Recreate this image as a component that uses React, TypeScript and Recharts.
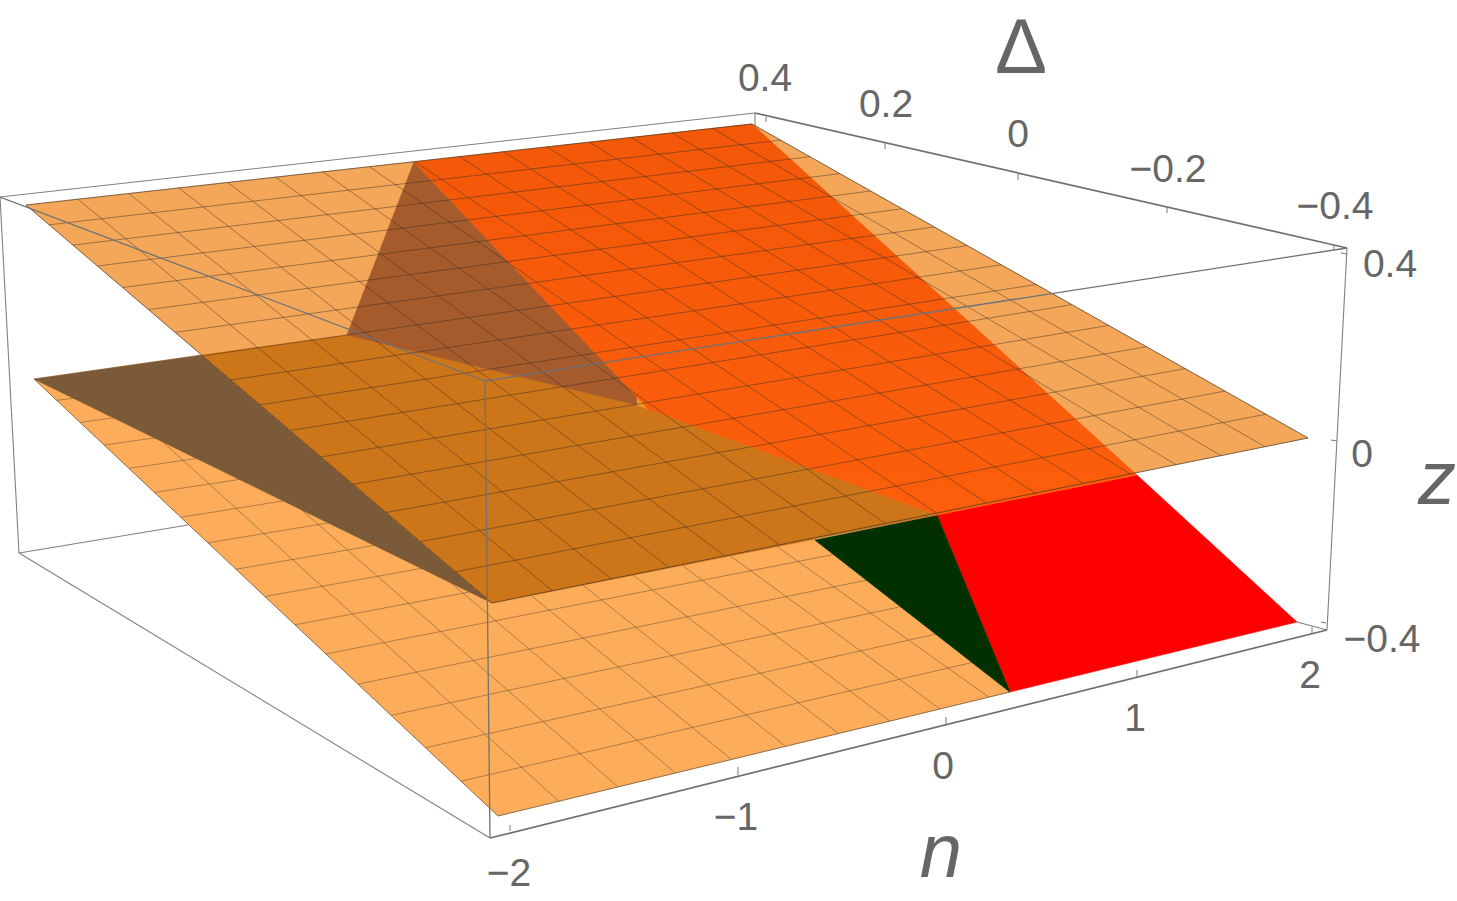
import React from "react";
import { ScatterChart, Scatter, XAxis, YAxis } from "recharts";

type P = [number, number];

// sheet corners, in picture units, order: (n=-2,D=.4) (n=2,D=.4) (n=2,D=-.4) (n=-2,D=-.4)
const upperSheet: P[] = [[26, 205], [752, 124], [1308, 438], [492, 603]];
const lowerSheet: P[] = [[34, 379], [750, 290], [1297, 622], [498, 816]];

// regions
const lowerVisible: P[] = [[34, 379], [202, 355], [815, 540], [1010, 692], [498, 816]];
const foldBrown: P[] = [[34, 379], [202, 355], [492, 603]];
const foldGreen: P[] = [[815, 540], [937, 515], [1010, 692]];
const redFace: P[] = [[937, 515], [1137, 475], [1297, 622], [1010, 692]];
const upperFace: P[] = upperSheet;
const darkOrange: P[] = [[202, 355], [347, 335], [637, 405], [937, 515], [492, 603]];
const brownWedge: P[] = [[414, 162], [347, 335], [637, 405], [637, 397]];
const sliver: P[] = [[637, 397], [637, 405], [648, 409]];
const orangeFace: P[] = [[414, 162], [752, 124], [1137, 475], [937, 515], [648, 409], [637, 397]];

// mesh positions
const meshN = [-1.75, -1.5, -1.25, -1, -0.75, -0.5, -0.25, 0, 0.25, 0.5, 0.75, 1, 1.25, 1.5, 1.75];
const meshD = [0.35, 0.3, 0.25, 0.2, 0.15, 0.1, 0.05, 0, -0.05, -0.1, -0.15, -0.2, -0.25, -0.3, -0.35];

// bounding box edges
const boxThin: P[][] = [
  [[0, 197], [755, 113]],
  [[755, 113], [755, 126]],
  [[0, 197], [19, 553]],
  [[19, 553], [188, 525]],
  [[19, 553], [490, 838]],
  [[1347, 248], [1327, 630]],
  [[1327, 630], [1297, 622]],
];
const boxThick: P[][] = [
  [[755, 113], [1347, 248]],
  [[490, 838], [1327, 630]],
];
const boxFront: P[][] = [
  [[1347, 248], [485, 381]],
  [[485, 381], [0, 197]],
  [[485, 381], [490, 838]],
];
const tickMarks: P[][] = [
  [[510, 831], [510, 825]], [[738, 775], [738, 767]], [[946, 725], [946, 717]], [[1137, 677], [1137, 670]], [[1312, 633], [1312, 627]],
  [[766, 122], [766, 117]], [[885, 149], [885, 143]], [[1018, 180], [1018, 174]], [[1167, 213], [1167, 207]], [[1334, 250], [1334, 245]],
  [[1347, 254], [1341, 253]], [[1337, 441], [1331, 440]], [[1326, 623], [1321, 622]],
];

// tick labels
const tickLabels: { x: number; y: number; text: string }[] = [
  { x: 765, y: 77, text: "0.4" },
  { x: 886, y: 103, text: "0.2" },
  { x: 1018, y: 133, text: "0" },
  { x: 1168, y: 168, text: "\u22120.2" },
  { x: 1335, y: 205, text: "\u22120.4" },
  { x: 1390, y: 263, text: "0.4" },
  { x: 1362, y: 453, text: "0" },
  { x: 1382, y: 638, text: "\u22120.4" },
  { x: 509, y: 872, text: "\u22122" },
  { x: 736, y: 816, text: "\u22121" },
  { x: 943, y: 765, text: "0" },
  { x: 1135, y: 717, text: "1" },
  { x: 1310, y: 674, text: "2" },
];
const axisTitles: { x: number; y: number; text: string; italic: boolean }[] = [
  { x: 1021, y: 46, text: "\u0394", italic: false },
  { x: 941, y: 850, text: "n", italic: true },
  { x: 1437, y: 477, text: "z", italic: true },
];

function homography(q: P[]) {
  const [[x0, y0], [x1, y1], [x2, y2], [x3, y3]] = q;
  const dx1 = x1 - x2, dx2 = x3 - x2, sx = x0 - x1 + x2 - x3;
  const dy1 = y1 - y2, dy2 = y3 - y2, sy = y0 - y1 + y2 - y3;
  const den = dx1 * dy2 - dx2 * dy1;
  const g = (sx * dy2 - dx2 * sy) / den;
  const h = (dx1 * sy - sx * dy1) / den;
  const a = x1 - x0 + g * x1, b = x3 - x0 + h * x3;
  const d = y1 - y0 + g * y1, e = y3 - y0 + h * y3;
  return (u: number, v: number): P => {
    const w = g * u + h * v + 1;
    return [(a * u + b * v + x0) / w, (d * u + e * v + y0) / w];
  };
}
const uOf = (n: number) => (n + 2) / 4;
const vOf = (D: number) => (0.4 - D) / 0.8;
function meshLines(q: P[]): P[][] {
  const H = homography(q);
  const out: P[][] = [];
  meshN.forEach((n) => out.push([H(uOf(n), 0), H(uOf(n), 1)]));
  meshD.forEach((D) => out.push([H(0, vOf(D)), H(1, vOf(D))]));
  return out;
}

const toRows = (pts: P[]) => pts.map(([x, y]) => ({ x, y }));
const NoPoint = () => <g />;

function face(key: string, pts: P[], fill: string) {
  return (
    <Scatter
      key={key}
      data={toRows([...pts, pts[0]])}
      dataKey="y"
      isAnimationActive={false}
      shape={NoPoint}
      line={{ fill, stroke: fill, strokeWidth: 0.6 }}
    />
  );
}
function segs(key: string, list: P[][], stroke: string, strokeWidth: number) {
  return list.map((pts, i) => (
    <Scatter
      key={key + i}
      data={toRows(pts)}
      dataKey="y"
      isAnimationActive={false}
      shape={NoPoint}
      line={{ stroke, strokeWidth, fill: "none" }}
    />
  ));
}
const closed = (q: P[]): P[][] => q.map((p, i) => [p, q[(i + 1) % q.length]]);

const TickText = (props: any) => (
  <text x={props.cx} y={props.cy} textAnchor="middle" dominantBaseline="central" fontFamily="Liberation Sans" fontSize={39} fill="#666666">
    {props.payload.text}
  </text>
);
const TitleText = (props: any) => (
  <text
    x={props.cx}
    y={props.cy}
    textAnchor="middle"
    dominantBaseline="central"
    fontFamily="Liberation Sans"
    fontSize={props.payload.italic ? 76 : 78}
    fontStyle={props.payload.italic ? "italic" : "normal"}
    fill="#666666"
  >
    {props.payload.text}
  </text>
);

export default function App() {
  return (
    <div style={{ position: "absolute", left: 0, top: 0, width: 1457, height: 901, background: "#fff" }}>
      <ScatterChart width={1457} height={901} margin={{ top: 0, right: 0, bottom: 0, left: 0 }}>
        <defs>
          <linearGradient id="orangeShade" x1="0" y1="0" x2="0" y2="1">
            <stop offset="0%" stopColor="#F35808" />
            <stop offset="100%" stopColor="#FC5E0B" />
          </linearGradient>
        </defs>
        <XAxis type="number" dataKey="x" domain={[0, 1457]} hide />
        <YAxis type="number" dataKey="y" domain={[0, 901]} reversed hide />
        {segs("thin", boxThin, "#808080", 1.1)}
        {segs("thick", boxThick, "#707070", 1.7)}
        {segs("tick", tickMarks, "#777777", 1)}
        {face("lower", lowerVisible, "#FDAC59")}
        {segs("lowerMesh", meshLines(lowerSheet), "rgba(70,60,50,0.42)", 1)}
        {segs("lowerEdge", closed(lowerVisible).slice(2), "rgba(70,60,50,0.6)", 1)}
        {face("red", redFace, "#FF0000")}
        {face("green", foldGreen, "#023000")}
        {face("fold", foldBrown, "#7A5A38")}
        {face("upper", upperFace, "#F4A759")}
        {face("dark", darkOrange, "#CC7519")}
        {face("wedge", brownWedge, "#A65B2D")}
        {face("sliver", sliver, "#F19325")}
        {face("orange", orangeFace, "url(#orangeShade)")}
        {segs("upperMesh", meshLines(upperSheet), "rgba(50,45,40,0.45)", 1)}
        {segs("upperEdge", closed(upperSheet), "rgba(60,50,40,0.65)", 1)}
        {segs("front", boxFront, "#6C7378", 1.3)}
        <Scatter data={tickLabels} dataKey="y" isAnimationActive={false} shape={TickText} />
        <Scatter data={axisTitles} dataKey="y" isAnimationActive={false} shape={TitleText} />
      </ScatterChart>
    </div>
  );
}
